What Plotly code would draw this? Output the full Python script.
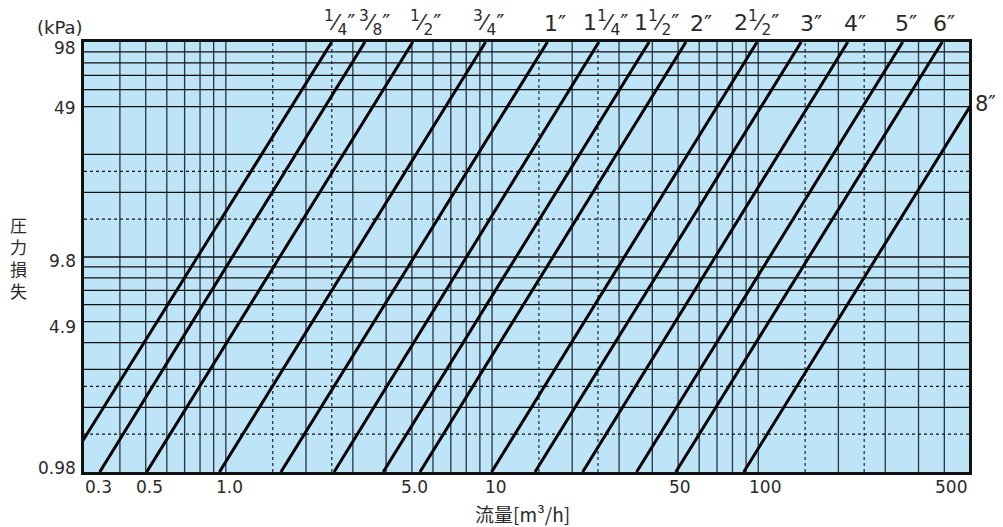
import math
import plotly.graph_objects as go

# ---------------- data ----------------
sizes = ["<sup>1</sup>⁄<sub>4</sub>″", "<sup>3</sup>⁄<sub>8</sub>″", "<sup>1</sup>⁄<sub>2</sub>″",
         "<sup>3</sup>⁄<sub>4</sub>″", "1″", "1<sup>1</sup>⁄<sub>4</sub>″", "1<sup>1</sup>⁄<sub>2</sub>″",
         "2″", "2<sup>1</sup>⁄<sub>2</sub>″", "3″", "4″", "5″", "6″", "8″"]
# flow [m3/h] where each line reaches 98 kPa and 0.98 kPa
flow_at_98 = [2.5, 3.33, 5.04, 9.46, 16.15, 25.2, 38.9, 53.5, 99, 145, 217, 349, 491, 882]
flow_at_098 = [0.245, 0.336, 0.504, 0.946, 1.61, 2.55, 3.9, 5.36, 9.96, 14.5, 21.9, 34.9, 49.0, 88.2]
p_top = 98.0
p_bottom = 0.98

x_tick_vals = [0.3, 0.5, 1, 5, 10, 50, 100, 500]
x_tick_text = ["0.3", "0.5", "1.0", "5.0", "10", "50", "100", "500"]
y_tick_vals = [0.98, 4.9, 9.8, 49, 98]
y_tick_text = ["0.98", "4.9", "9.8", "49", "98"]

x_grid_solid = [0.4, 0.5, 0.6, 0.7, 0.8, 0.9, 1, 2, 3, 4, 5, 6, 7, 8, 9, 10,
                20, 30, 40, 50, 60, 70, 80, 90, 100, 200, 300, 400, 500]
x_grid_dashed = [1.5, 2.5, 15, 25, 150, 250]
y_grid_solid = [1.96, 2.94, 3.92, 4.9, 5.88, 6.86, 7.84, 8.82, 9.8,
                19.6, 29.4, 49, 58.8, 68.6, 78.4, 88.2]
y_grid_dashed = [1.47, 2.45, 14.7, 24.5]

y_title = "圧<br>力<br>損<br>失"
x_title = "流量[m³/h]"
unit_label = "(kPa)"

x_min, x_max = 0.2932, 619.0

# ---------------- styling / layout helpers ----------------
BG = "#BEE4F8"
TXT = "#2a2a2a"
NUMFONT = "DejaVu Sans"
JPFONT = "Noto Sans CJK JP"

fig = go.Figure()


def vlines(vals):
    xs, ys = [], []
    for v in vals:
        xs += [v, v, None]
        ys += [p_bottom, p_top, None]
    return xs, ys


def hlines(vals):
    xs, ys = [], []
    for v in vals:
        xs += [x_min, x_max, None]
        ys += [v, v, None]
    return xs, ys


for vals, fn, dash, col in [
    (x_grid_solid, vlines, "solid", "#26333d"),
    (x_grid_dashed, vlines, "3px,3px", "#26333d"),
    (y_grid_solid, hlines, "solid", "#111111"),
    (y_grid_dashed, hlines, "3px,3px", "#111111"),
]:
    xs, ys = fn(vals)
    fig.add_trace(go.Scatter(x=xs, y=ys, mode="lines",
                             line=dict(color=col, width=1.3, dash=dash),
                             hoverinfo="skip", showlegend=False))

for name, q98, q098 in zip(sizes, flow_at_98, flow_at_098):
    fig.add_trace(go.Scatter(x=[q098, q98], y=[p_bottom, p_top], mode="lines",
                             line=dict(color="black", width=3),
                             showlegend=False))

annotations = []
# x tick labels
x_shift = [12, 4, 4, 3, 4, 2, 7, 7]
for v, t, s in zip(x_tick_vals, x_tick_text, x_shift):
    annotations.append(dict(x=math.log10(v), xref="x", y=0, yref="paper",
                            text=t, showarrow=False, xanchor="center", yanchor="middle",
                            xshift=s, yshift=-15,
                            font=dict(family=NUMFONT, size=17, color=TXT)))
# y tick labels
y_shift = [4, -5, -4, -1, -6]
for v, t, s in zip(y_tick_vals, y_tick_text, y_shift):
    annotations.append(dict(x=0, xref="paper", y=math.log10(v), yref="y",
                            text=t, showarrow=False, xanchor="right", yanchor="middle",
                            xshift=-6, yshift=s,
                            font=dict(family=NUMFONT, size=17, color=TXT)))
# pipe size labels
label_shift = [8, 10, 13, 3, 8, 7, 8, 15, 0, 10, 7, 3, 2]
for name, q98, s in zip(sizes[:-1], flow_at_98[:-1], label_shift):
    annotations.append(dict(x=math.log10(q98), xref="x", y=1, yref="paper",
                            text=name, showarrow=False, xanchor="center", yanchor="middle",
                            xshift=s, yshift=19,
                            font=dict(family=NUMFONT, size=22, color=TXT)))
annotations.append(dict(x=1, xref="paper", y=math.log10(49), yref="y",
                        text=sizes[-1], showarrow=False, xanchor="left", yanchor="middle",
                        xshift=4, yshift=3,
                        font=dict(family=NUMFONT, size=21, color=TXT)))
# unit / titles
annotations.append(dict(x=0, xref="paper", y=1, yref="paper", text=unit_label,
                        showarrow=False, xanchor="center", yanchor="middle",
                        xshift=-24, yshift=15,
                        font=dict(family=NUMFONT, size=18, color=TXT)))
annotations.append(dict(x=0, xref="paper", y=0.5, yref="paper", text=y_title,
                        showarrow=False, xanchor="center", yanchor="middle",
                        xshift=-66, yshift=0,
                        font=dict(family=JPFONT, size=17, color=TXT)))
annotations.append(dict(x=0.5, xref="paper", y=0, yref="paper", text=x_title,
                        showarrow=False, xanchor="center", yanchor="middle",
                        xshift=-4, yshift=-41,
                        font=dict(family=JPFONT, size=19, color=TXT)))

# the page body has an 8px default margin, so the figure is 8px smaller each way
fig.update_layout(
    width=995, height=519,
    margin=dict(l=76, r=34, t=34, b=55),
    paper_bgcolor="white",
    plot_bgcolor=BG,
    annotations=annotations,
    showlegend=False,
)
fig.update_xaxes(type="log", range=[math.log10(x_min), math.log10(x_max)],
                 showgrid=False, zeroline=False, showticklabels=False, ticks="",
                 showline=True, mirror=True, linecolor="#111111", linewidth=2.5)
fig.update_yaxes(type="log", range=[math.log10(p_bottom), math.log10(p_top)],
                 showgrid=False, zeroline=False, showticklabels=False, ticks="",
                 showline=True, mirror=True, linecolor="#111111", linewidth=2.5)

fig.write_html("out.html")
